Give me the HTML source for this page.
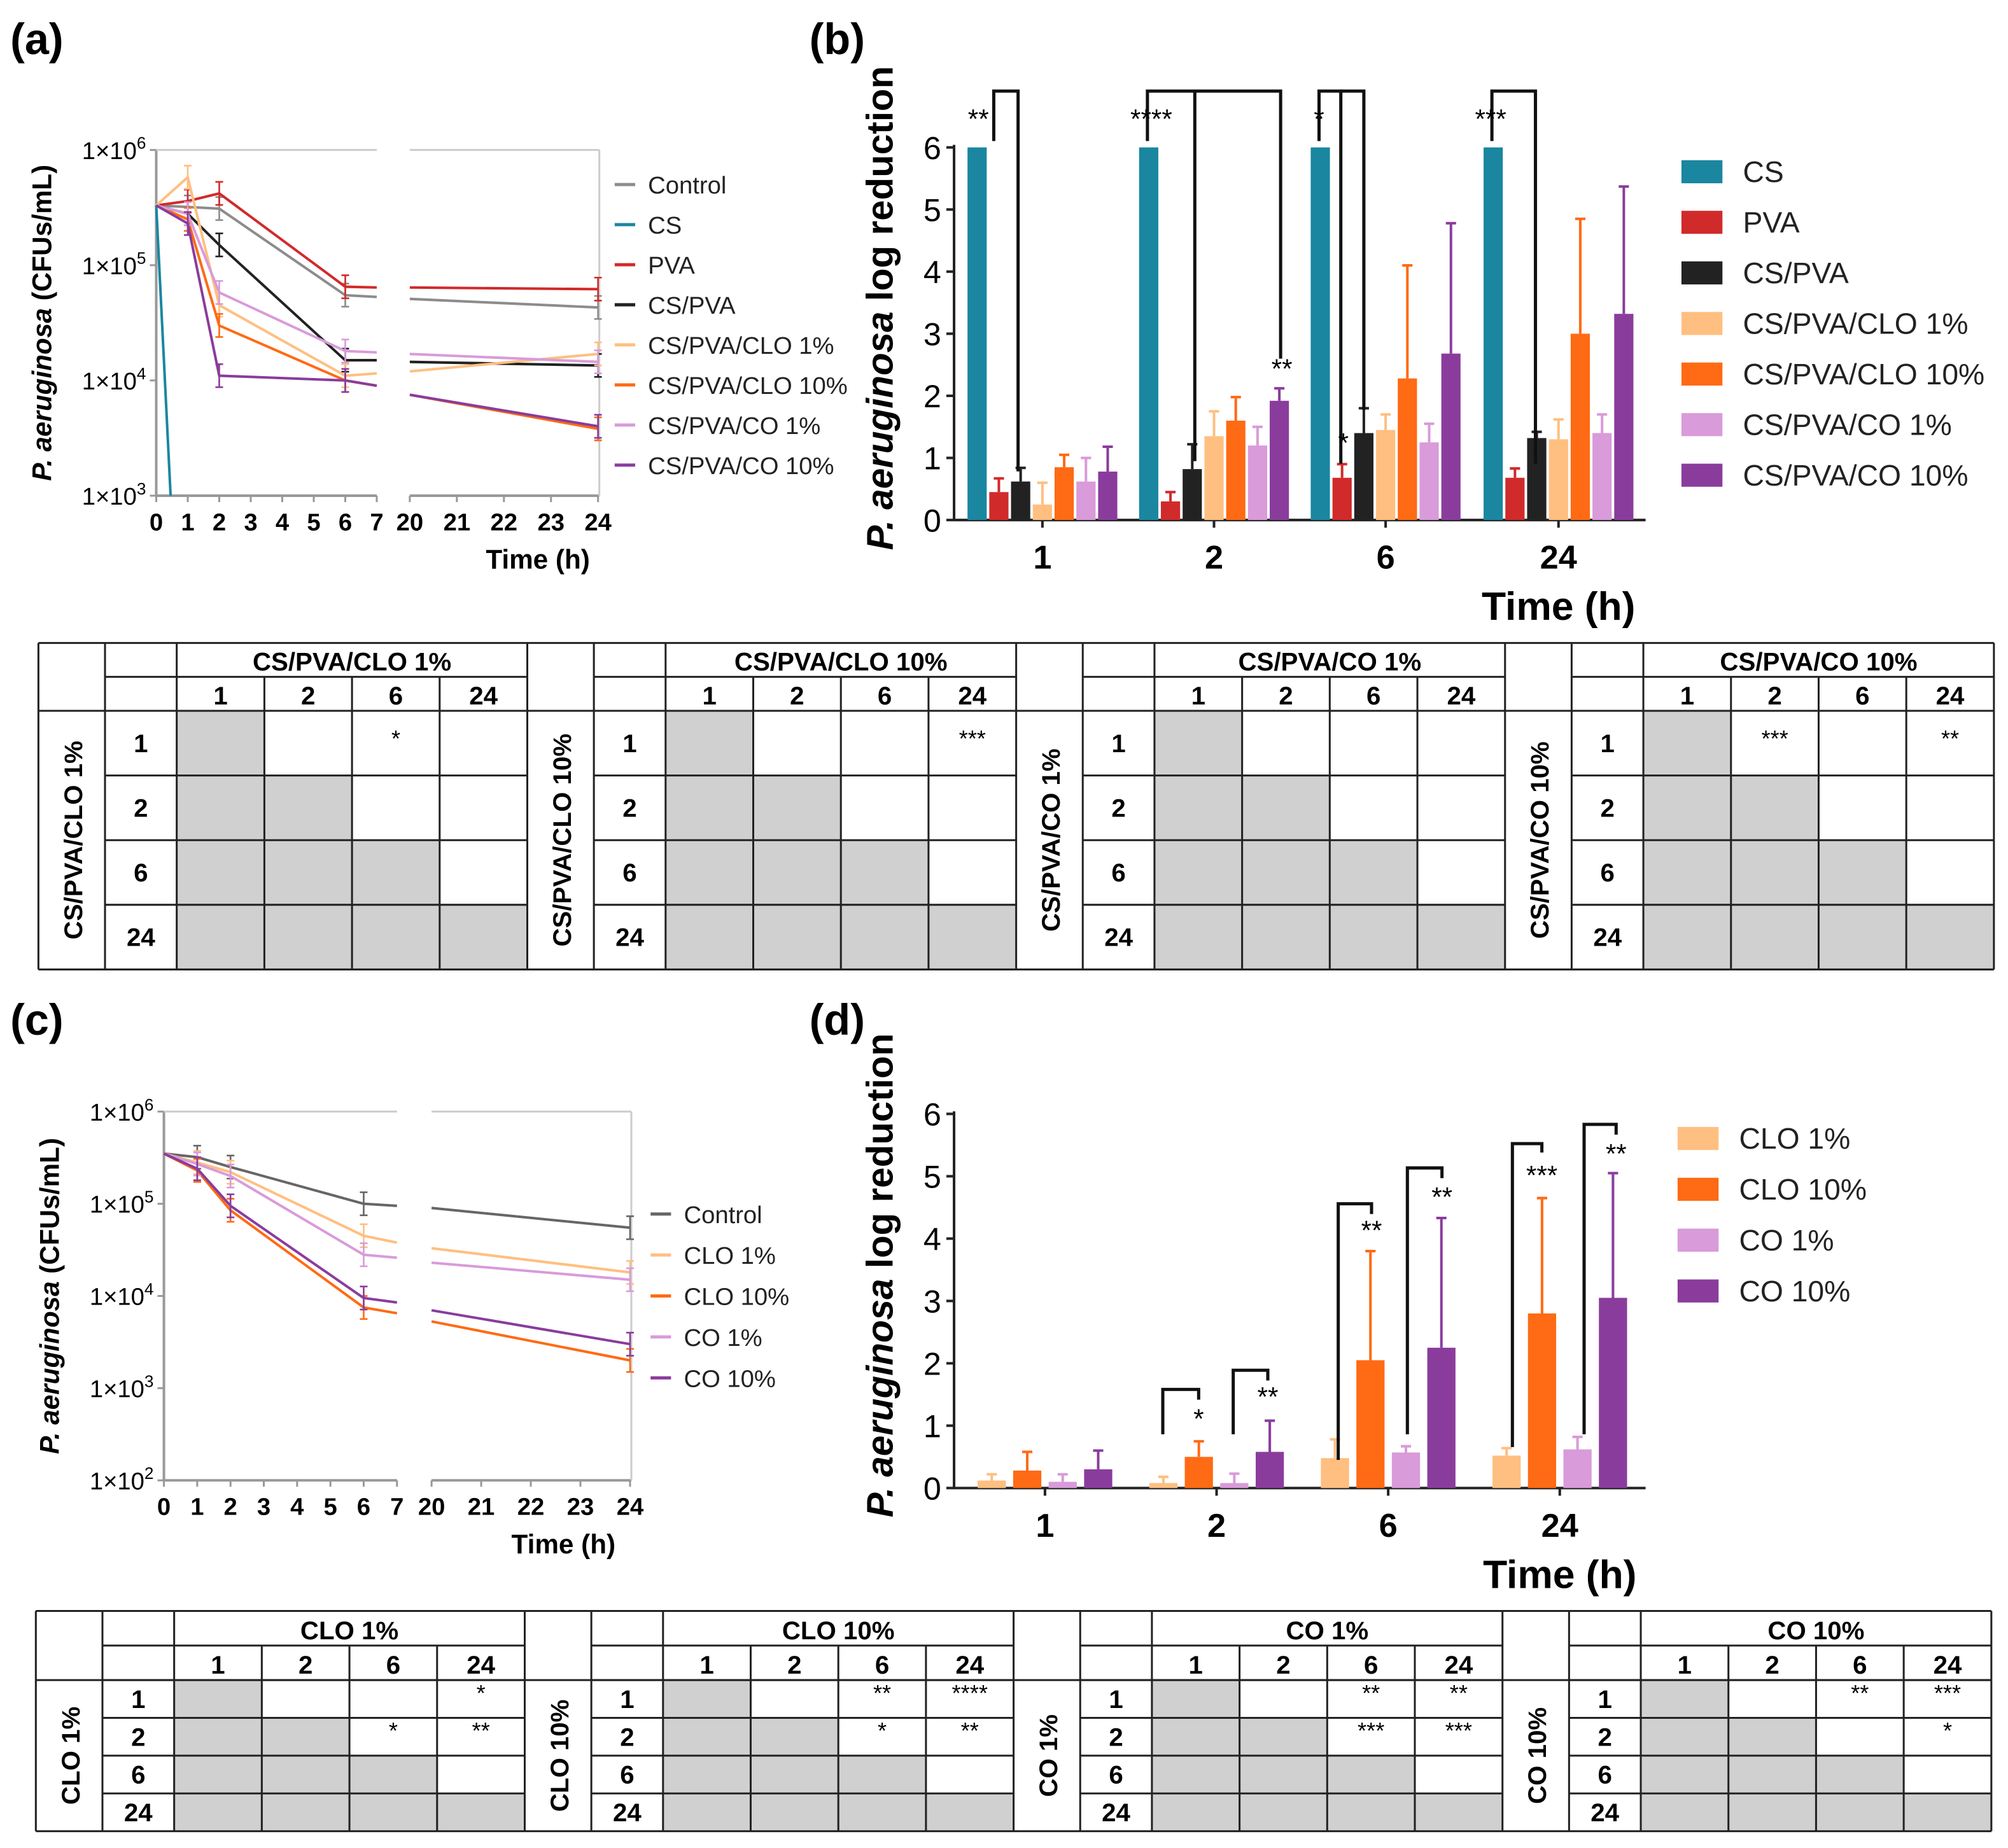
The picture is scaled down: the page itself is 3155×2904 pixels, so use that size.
<!DOCTYPE html>
<html><head><meta charset="utf-8"><style>
html,body{margin:0;padding:0;background:#fff}
svg{display:block;font-family:"Liberation Sans",Arial,sans-serif}
</style></head><body>
<svg id="fig" width="3155" height="2904" viewBox="0 0 1568 1443" xmlns="http://www.w3.org/2000/svg"></svg>
<script>
// ---------- DATA ----------
const timesLine = [0,1,2,6,7,20,24];
const seriesA = ["Control","CS","PVA","CS/PVA","CS/PVA/CLO 1%","CS/PVA/CLO 10%","CS/PVA/CO 1%","CS/PVA/CO 10%"];
const valsAControl = [3.3e5,3.2e5,3.1e5,5.5e4,5.3e4,5.1e4,4.3e4];
const valsACS      = [3.3e5,1];
const valsAPVA     = [3.3e5,3.6e5,4.2e5,6.5e4,6.4e4,6.4e4,6.2e4];
const valsACSPVA   = [3.3e5,2.8e5,1.5e5,1.5e4,1.5e4,1.45e4,1.35e4];
const valsACLO1    = [3.3e5,5.8e5,4.5e4,1.1e4,1.15e4,1.2e4,1.7e4];
const valsACLO10   = [3.3e5,2.5e5,3.0e4,1.0e4,9e3,7.5e3,3.8e3];
const valsACO1     = [3.3e5,2.8e5,5.8e4,1.8e4,1.75e4,1.7e4,1.45e4];
const valsACO10    = [3.3e5,2.3e5,1.1e4,1.0e4,9e3,7.5e3,4.0e3];

const seriesC = ["Control","CLO 1%","CLO 10%","CO 1%","CO 10%"];
const valsCControl = [3.5e5,3.2e5,2.5e5,1.0e5,9.5e4,9e4,5.5e4];
const valsCCLO1    = [3.5e5,2.8e5,2.2e5,4.5e4,3.8e4,3.3e4,1.8e4];
const valsCCLO10   = [3.5e5,2.3e5,8.5e4,7.5e3,6.5e3,5.3e3,2.0e3];
const valsCCO1     = [3.5e5,2.7e5,2.0e5,2.8e4,2.6e4,2.3e4,1.5e4];
const valsCCO10    = [3.5e5,2.4e5,9.5e4,9.5e3,8.5e3,7.0e3,3.0e3];

const groups = ["1","2","6","24"];
const seriesB = ["CS","PVA","CS/PVA","CS/PVA/CLO 1%","CS/PVA/CLO 10%","CS/PVA/CO 1%","CS/PVA/CO 10%"];
const valsB = [[6,0.45,0.62,0.25,0.85,0.62,0.78],[6,0.3,0.82,1.35,1.6,1.2,1.92],[6,0.68,1.4,1.45,2.28,1.25,2.68],[6,0.68,1.32,1.3,3.0,1.4,3.32]];
const errsB = [[0,0.22,0.22,0.35,0.2,0.38,0.4],[0,0.15,0.4,0.4,0.38,0.3,0.2],[0,0.22,0.4,0.25,1.82,0.3,2.1],[0,0.15,0.1,0.32,1.85,0.3,2.05]];
const seriesD = ["CLO 1%","CLO 10%","CO 1%","CO 10%"];
const valsD = [[0.12,0.28,0.1,0.3],[0.08,0.5,0.08,0.58],[0.48,2.05,0.57,2.25],[0.52,2.8,0.62,3.05]];
const errsD = [[0.1,0.3,0.12,0.3],[0.1,0.25,0.15,0.5],[0.3,1.75,0.1,2.08],[0.12,1.85,0.2,2.0]];
const yTicksBar = [0,1,2,3,4,5,6];

const colA = ["#8c8c8c","#1a86a0","#d12a2a","#222222","#ffbf80","#ff6a14","#d99bd9","#8a3c9c"];
const colB = colA.slice(1);
const colC = ["#666666","#ffbf80","#ff6a14","#d99bd9","#8a3c9c"];
const colD = ["#ffbf80","#ff6a14","#d99bd9","#8a3c9c"];

// ---------- helpers ----------
const NS="http://www.w3.org/2000/svg";
const svg=document.getElementById('fig');
function el(tag,attrs,parent,text){const e=document.createElementNS(NS,tag);for(const k in attrs)e.setAttribute(k,attrs[k]);if(text!==undefined)e.textContent=text;(parent||svg).appendChild(e);return e;}
function line(x1,y1,x2,y2,stroke,w,p){return el('line',{x1,y1,x2,y2,stroke,'stroke-width':w||1.5},p);}

// ---------- panel labels ----------
[["(a)",8,42],["(b)",632,42],["(c)",8,808],["(d)",632,808]].forEach(l=>{
 const t=el('text',{x:l[1],y:l[2],'font-size':34,'font-weight':'bold'},svg,l[0]);
 
 
});

// ---------- line panels ----------
function linePanel(cfg){
 const g=el('g',{});
 
 
 const xs=t=>t<=7?cfg.x0+t*cfg.kL:cfg.x20+(t-20)*cfg.kR;
 const ys=v=>cfg.yTop+(cfg.topExp-Math.log10(v))*cfg.dec;
 const yBot=cfg.yTop+(cfg.topExp-cfg.botExp)*cfg.dec;
 el('clipPath',{id:cfg.name+'-clip'},g).appendChild((()=>{const r=document.createElementNS(NS,'rect');r.setAttribute('x',cfg.x0-2);r.setAttribute('y',cfg.yTop-10);r.setAttribute('width',cfg.xEnd-cfg.x0+4);r.setAttribute('height',yBot-cfg.yTop+10);return r;})());
 // frame
 line(cfg.x0,cfg.yTop,cfg.x0,yBot,'#999',2,g);
 line(cfg.x0,yBot,xs(7),yBot,'#999',2,g);
 line(cfg.x20,yBot,cfg.xEnd,yBot,'#999',2,g);
 line(cfg.x0,cfg.yTop,xs(7),cfg.yTop,'#ccc',1.5,g);
 line(cfg.x20,cfg.yTop,cfg.xEnd,cfg.yTop,'#ccc',1.5,g);
 line(cfg.xEnd,cfg.yTop,cfg.xEnd,yBot,'#ccc',1.5,g);
 // y ticks
 for(let e=cfg.botExp;e<=cfg.topExp;e++){
  const y=ys(Math.pow(10,e));
  line(cfg.x0-5,y,cfg.x0,y,'#999',1.5,g);
  const t=el('text',{x:cfg.x0-8,y:y+7,'font-size':19,'text-anchor':'end'},g);
  el('tspan',{},t,'1×10');el('tspan',{dy:-8,'font-size':13},t,String(e));
 }
 const xt=[0,1,2,3,4,5,6,7,20,21,22,23,24];
 xt.forEach(t=>{const x=xs(t);line(x,yBot,x,yBot+5,'#999',1.5,g);
  el('text',{x,y:yBot+27,'font-size':19,'text-anchor':'middle','font-weight':'bold'},g,String(t));});
 el('text',{x:cfg.titleX,y:yBot+57,'font-size':21,'font-weight':'bold','text-anchor':'middle'},g,'Time (h)');
 const yt=el('text',{transform:`translate(${cfg.x0-82},${(cfg.yTop+yBot)/2}) rotate(-90)`,'font-size':21,'font-weight':'bold','text-anchor':'middle'},g);
 el('tspan',{'font-style':'italic'},yt,'P. aeruginosa');el('tspan',{},yt,' (CFUs/mL)');
 // series
 const dg=el('g',{'clip-path':`url(#${cfg.name}-clip)`},g);
 cfg.vals.forEach((vals,i)=>{
  let ptsL=[],ptsR=[];
  vals.forEach((v,j)=>{const t=timesLine[j];const p=xs(t).toFixed(1)+','+ys(v).toFixed(1);if(t<=7)ptsL.push(p);else ptsR.push(p);});
  const pl=el('polyline',{points:ptsL.join(' '),fill:'none',stroke:cfg.cols[i],'stroke-width':2},dg);
  
  
  if(ptsR.length){const pr=el('polyline',{points:ptsR.join(' '),fill:'none',stroke:cfg.cols[i],'stroke-width':2},dg);
   
   }
  // small error bars
  vals.forEach((v,j)=>{const t=timesLine[j];if(t===0||t===7||t===20||v<10)return;const x=xs(t),y=ys(v);
   line(x,y-9,x,y+9,cfg.cols[i],1.3,dg);line(x-3,y-9,x+3,y-9,cfg.cols[i],1.3,dg);line(x-3,y+9,x+3,y+9,cfg.cols[i],1.3,dg);});
 });
 // legend
 cfg.series.forEach((s,i)=>{const y=cfg.legY+i*cfg.legDy;
  const lg=el('g',{},g);
  
  
  line(cfg.legX,y,cfg.legX+16,y,cfg.cols[i],2.5,lg);
  el('text',{x:cfg.legX+26,y:y+7,'font-size':19,fill:'#222'},lg,s);});
}
linePanel({name:'chart-a',x0:122,kL:24.6,x20:320,kR:36.75,xEnd:468,yTop:117,topExp:6,botExp:3,dec:90,
 vals:[valsAControl,valsACS,valsAPVA,valsACSPVA,valsACLO1,valsACLO10,valsACO1,valsACO10],cols:colA,series:seriesA,
 legX:480,legY:144,legDy:31.3,titleX:420});
linePanel({name:'chart-c',x0:128,kL:26,x20:337,kR:38.75,xEnd:493,yTop:868,topExp:6,botExp:2,dec:72,
 vals:[valsCControl,valsCCLO1,valsCCLO10,valsCCO1,valsCCO10],cols:colC,series:seriesC,
 legX:508,legY:948,legDy:32,titleX:440});

// ---------- bar panels ----------
function barPanel(cfg){
 const g=el('g',{});
 
 
 const ys=v=>cfg.y0-v*cfg.k;
 line(cfg.xL,cfg.y0,cfg.xL,ys(6)-2,'#222',2,g);
 line(cfg.xL,cfg.y0,cfg.xR,cfg.y0,'#222',2,g);
 yTicksBar.forEach(v=>{const y=ys(v);line(cfg.xL-6,y,cfg.xL,y,'#222',2,g);
  el('text',{x:cfg.xL-10,y:y+9,'font-size':25,'text-anchor':'end'},g,String(v));});
 groups.forEach((gr,gi)=>{const cx=cfg.gx[gi];
  line(cx,cfg.y0,cx,cfg.y0+6,'#222',2,g);
  el('text',{x:cx,y:cfg.y0+38,'font-size':26,'font-weight':'bold','text-anchor':'middle'},g,gr);
  cfg.vals[gi].forEach((v,si)=>{
   const x=cx+(si-(cfg.vals[gi].length-1)/2)*cfg.step;
   const r=el('rect',{x:x-cfg.bw/2,y:ys(v),width:cfg.bw,height:v*cfg.k,fill:cfg.cols[si]},g);
   
   
   const e=cfg.errs[gi][si];
   if(e>0){const yt=ys(v+e);line(x,ys(v),x,yt,cfg.cols[si],2,g);line(x-4,yt,x+4,yt,cfg.cols[si],2,g);}
  });
 });
 el('text',{x:cfg.titleX,y:cfg.y0+78,'font-size':31,'font-weight':'bold','text-anchor':'middle'},g,'Time (h)');
 const yt=el('text',{transform:`translate(${cfg.xL-48},${(cfg.y0+ys(6))/2-20}) rotate(-90)`,'font-size':29,'font-weight':'bold','text-anchor':'middle'},g);
 el('tspan',{'font-style':'italic'},yt,'P. aeruginosa');el('tspan',{},yt,' log reduction');
 cfg.series.forEach((s,i)=>{const y=cfg.legY+i*cfg.legDy;
  const lg=el('g',{},g);
  
  
  el('rect',{x:cfg.legX,y:y-9,width:32,height:18,fill:cfg.cols[i]},lg);
  el('text',{x:cfg.legX+48,y:y+8,'font-size':23,fill:'#222'},lg,s);});
 return g;
}
const gb=barPanel({name:'chart-b',xL:745,xR:1285,y0:406,k:48.5,gx:[814,948,1082,1217],step:17,bw:15,vals:valsB,errs:errsB,cols:colB,series:seriesB,legX:1313,legY:134,legDy:39.5,titleX:1217});
const gd=barPanel({name:'chart-d',xL:745,xR:1285,y0:1162,k:48.7,gx:[816,950,1084,1218],step:27.7,bw:22,vals:valsD,errs:errsD,cols:colD,series:seriesD,legX:1310,legY:889,legDy:39.7,titleX:1218});

// significance brackets (drawn as paths)
function br(p,lbl,lx,ly,parent){el('path',{d:p,fill:'none',stroke:'#111','stroke-width':2.5},parent);
 if(lbl)el('text',{x:lx,y:ly,'font-size':21,'text-anchor':'middle'},parent,lbl);}
br('M776 110 V71 H795 V368','**',764,100,gb);
br('M896 110 V71 H1000 V280','****',899,100,gb);
br('M933 360 V71','',0,0,gb);
br('M1030 110 V71 H1047 V362','*',1030,100,gb);
br('M1047 71 H1065 V320','',0,0,gb);
br('M1165 110 V71 H1199 V362','***',1164,100,gb);
el('text',{x:1001,y:295,'font-size':21,'text-anchor':'middle'},gb,'**');
el('text',{x:1049,y:353,'font-size':21,'text-anchor':'middle'},gb,'*');
br('M908 1120 V1085 H936 V1093','*',936,1115,gd);
br('M963 1120 V1070 H990 V1078','**',990,1098,gd);
br('M1045 1140 V940 H1071 V948','**',1071,968,gd);
br('M1099 1120 V912 H1126 V920','**',1126,942,gd);
br('M1181 1130 V893 H1204 V900','***',1204,925,gd);
br('M1237 1120 V878 H1262 V886','**',1262,908,gd);

// ---------- tables ----------
const tblHeads1 = ["CS/PVA/CLO 1%","CS/PVA/CLO 10%","CS/PVA/CO 1%","CS/PVA/CO 10%"];
const tblHeads2 = ["CLO 1%","CLO 10%","CO 1%","CO 10%"];
const tblStars1 = [{"1-6":"*"},{"1-24":"***"},{},{"1-2":"***","1-24":"**"}];
const tblStars2 = [{"1-24":"*","2-6":"*","2-24":"**"},{"1-6":"**","1-24":"****","2-6":"*","2-24":"**"},{"1-6":"**","1-24":"**","2-6":"***","2-24":"***"},{"1-6":"**","1-24":"***","2-24":"*"}];
function table(cfg){
 const g=el('g',{});
 
 
 const bw=(cfg.x1-cfg.x0)/4;
 const rowsY=[cfg.y0,cfg.y0+cfg.h1,cfg.y0+2*cfg.h1];
 for(let i=1;i<=4;i++)rowsY.push(rowsY[2]+i*cfg.rh);
 cfg.heads.forEach((h,bi)=>{
  const bx=cfg.x0+bi*bw;const c0=bx+52,c1=bx+108;const cw=(bx+bw-c1)/4;
  // gray cells
  groups.forEach((r,ri)=>groups.forEach((c,ci)=>{if(ci<=ri){const cell=el('rect',{x:c1+ci*cw,y:rowsY[2+ri],width:cw,height:cfg.rh,fill:'#d0d0d0'},g);
   }
   const s=cfg.stars[bi][r+'-'+c];
   if(s)el('text',{x:c1+(ci+0.5)*cw,y:rowsY[2+ri]+cfg.rh*0.55,'font-size':cfg.fs-2,'text-anchor':'middle'},g,s);}));
  el('text',{x:c1+2*cw,y:rowsY[1]-5,'font-size':cfg.fs,'font-weight':'bold','text-anchor':'middle'},g,h);
  groups.forEach((c,ci)=>el('text',{x:c1+(ci+0.5)*cw,y:rowsY[2]-5,'font-size':cfg.fs,'font-weight':'bold','text-anchor':'middle'},g,c));
  groups.forEach((r,ri)=>el('text',{x:(c0+c1)/2,y:rowsY[2+ri]+cfg.rh/2+7,'font-size':cfg.fs,'font-weight':'bold','text-anchor':'middle'},g,r));
  el('text',{transform:`translate(${(bx+c0)/2+8},${(rowsY[2]+rowsY[6])/2}) rotate(-90)`,'font-size':cfg.fs,'font-weight':'bold','text-anchor':'middle'},g,h);
  // grid lines
  [c0,c1].forEach(x=>line(x,cfg.y0,x,rowsY[6],'#222',1.5,g));
  for(let i=1;i<4;i++)line(c1+i*cw,rowsY[1],c1+i*cw,rowsY[6],'#222',1.5,g);
  line(bx,cfg.y0,bx,rowsY[6],'#222',1.5,g);
  [1,2,3,4,5].forEach(k=>line(k>=2?c0:c0,rowsY[k],bx+bw,rowsY[k],'#222',1.5,g));
  line(bx,rowsY[2],bx+bw,rowsY[2],'#222',1.5,g);
 });
 line(cfg.x1,cfg.y0,cfg.x1,rowsY[6],'#222',1.5,g);
 line(cfg.x0,cfg.y0,cfg.x1,cfg.y0,'#222',1.5,g);
 line(cfg.x0,rowsY[6],cfg.x1,rowsY[6],'#222',1.5,g);
}
table({name:'table-1',x0:30,x1:1557,y0:502,h1:26.5,rh:50.5,heads:tblHeads1,stars:tblStars1,fs:20});
table({name:'table-2',x0:28,x1:1555,y0:1258,h1:27,rh:29.5,heads:tblHeads2,stars:tblStars2,fs:20});
</script>
</body></html>
